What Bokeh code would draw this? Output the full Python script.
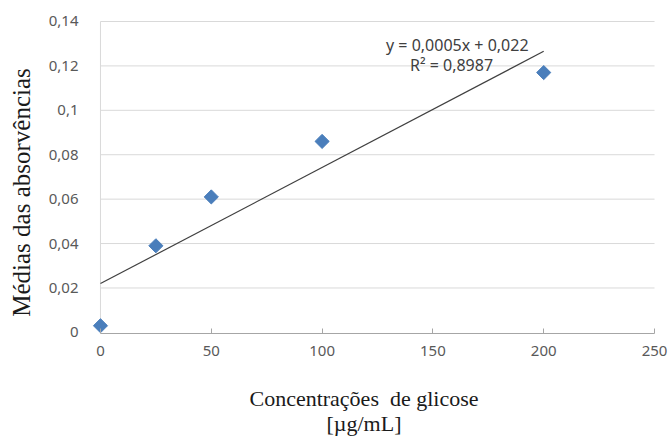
import numpy as np
from bokeh.plotting import figure
from bokeh.models import Range1d, FixedTicker, Label
from bokeh.embed import file_html
from bokeh.resources import INLINE

# ---- data ----
conc = [0, 25, 50, 100, 200]
absorb = [0.003, 0.039, 0.061, 0.086, 0.117]
x_ticks = [0, 50, 100, 150, 200, 250]
y_ticks = [0, 0.02, 0.04, 0.06, 0.08, 0.10, 0.12, 0.14]
y_tick_labels = ["0", "0,02", "0,04", "0,06", "0,08", "0,1", "0,12", "0,14"]
equation = "y = 0,0005x + 0,022"
r2_text = "R² = 0,8987"
x_title_1 = "Concentrações\u00a0 de glicose"
x_title_2 = "[µg/mL]"
y_title = "Médias das absorvências"

X_MIN, X_MAX = 0, 250
Y_MIN, Y_MAX = 0, 0.14

NB = "\u00a0"  # non-breaking spaces used to nudge the centred axis titles

p = figure(width=668, height=438, output_backend="svg", toolbar_location=None,
           x_range=Range1d(-3.6, 256.3), y_range=Range1d(-0.0005, 0.149),
           min_border_left=92, min_border_right=0, min_border_top=1, min_border_bottom=105)
p.outline_line_color = None
p.background_fill_color = "white"
p.border_fill_color = "white"
p.xgrid.visible = False
p.ygrid.visible = False

# gridlines
gy = [t for t in y_ticks if t > 0]
p.segment(x0=[X_MIN] * len(gy), x1=[X_MAX] * len(gy), y0=gy, y1=gy,
          line_color="#D9D9D9", line_width=1)
# vertical axis line at x = 0
p.segment(x0=[X_MIN], x1=[X_MIN], y0=[Y_MIN], y1=[Y_MAX], line_color="#D9D9D9", line_width=1)

tick_font = "Noto Sans"
serif = "Liberation Serif"

# x axis
xa = p.xaxis[0]
xa.bounds = (X_MIN, X_MAX)
xa.ticker = FixedTicker(ticks=x_ticks)
xa.axis_line_color = "#A6A6A6"
xa.major_tick_line_color = "#A6A6A6"
xa.major_tick_in = 5
xa.major_tick_out = 0
xa.minor_tick_line_color = None
xa.major_label_text_font = tick_font
xa.major_label_text_font_size = "15px"
xa.major_label_text_color = "#595959"
xa.major_label_standoff = 12
xa.axis_label = x_title_1 + NB * 6 + "\n" + x_title_2 + NB * 6
xa.axis_label_text_font = serif
xa.axis_label_text_font_size = "22px"
xa.axis_label_text_font_style = "normal"
xa.axis_label_text_color = "#1a1a1a"
xa.axis_label_text_line_height = 1.0
xa.axis_label_standoff = 27

# y axis
ya = p.yaxis[0]
ya.bounds = (Y_MIN, Y_MAX)
ya.ticker = FixedTicker(ticks=y_ticks)
ya.major_label_overrides = {t: l for t, l in zip(y_ticks, y_tick_labels)}
ya.axis_line_color = None
ya.major_tick_line_color = None
ya.minor_tick_line_color = None
ya.major_label_text_font = tick_font
ya.major_label_text_font_size = "15px"
ya.major_label_text_color = "#595959"
ya.major_label_standoff = 8
ya.axis_label = y_title + NB * 8
ya.axis_label_text_font = serif
ya.axis_label_text_font_size = "25px"
ya.axis_label_text_font_style = "normal"
ya.axis_label_text_color = "#1a1a1a"
ya.axis_label_standoff = 11

# linear trendline from the data
slope, intercept = np.polyfit(conc, absorb, 1)
tx = [min(conc), max(conc)]
ty = [slope * v + intercept for v in tx]
p.line(tx, ty, line_color="#404040", line_width=1.2)

# points (diamonds)
p.scatter(conc, absorb, marker="square", angle=np.pi / 4, size=10,
          fill_color="#4A7EBB", line_color="#4A7EBB")

# trendline equation
p.add_layout(Label(x=161, y=0.1294, text=equation, text_font=tick_font, text_font_size="16px",
                   text_color="#404040", text_align="center", text_baseline="middle"))
p.add_layout(Label(x=158.4, y=0.1206, text=r2_text, text_font=tick_font, text_font_size="16px",
                   text_color="#404040", text_align="center", text_baseline="middle"))

open("out.html", "w").write(file_html(p, INLINE))
